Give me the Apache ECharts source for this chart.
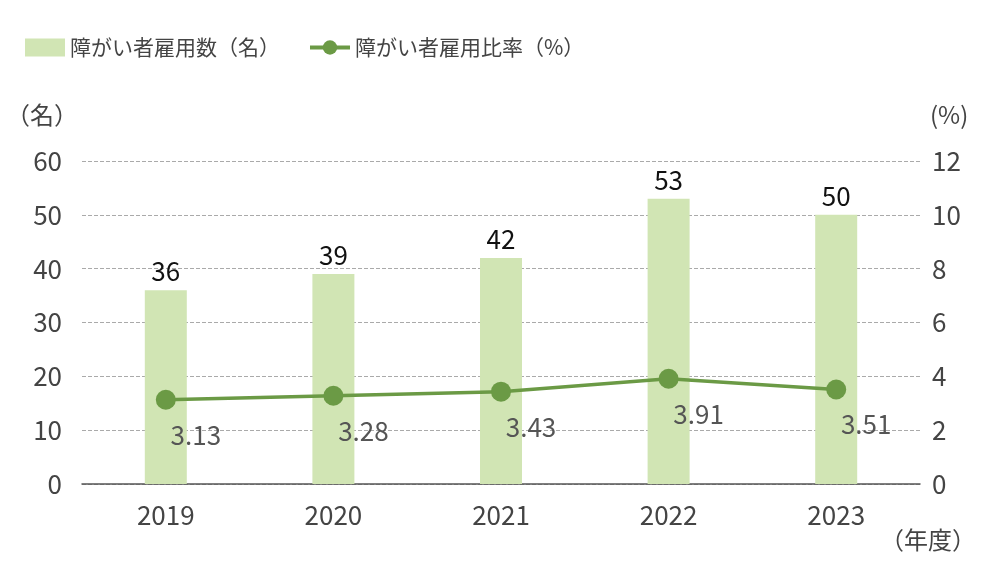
<!DOCTYPE html>
<html><head><meta charset="utf-8">
<script src="https://cdn.jsdelivr.net/npm/echarts@6/dist/echarts.min.js"></script>
<style>html,body{margin:0;background:#fff}#c{width:1000px;height:580px}</style>
</head><body><div id="c"></div>
<script>
const categories=['2019','2020','2021','2022','2023'];
const employees=[36,39,42,53,50];
const ratios=[3.13,3.28,3.43,3.91,3.51];
const ff='"Noto Sans CJK JP","Noto Sans",sans-serif';
const ch=echarts.init(document.getElementById('c'));
ch.setOption({
 textStyle:{fontFamily:ff},
 legend:{left:20,top:32,itemGap:28,itemWidth:40,itemHeight:18,textStyle:{fontSize:21,color:'#444',fontFamily:ff},
  data:[{name:'障がい者雇用数（名）',icon:'rect',itemStyle:{color:'#d1e5b4'}},{name:'障がい者雇用比率（%）',lineStyle:{width:4}}]},
 grid:{left:82,right:80,top:161,bottom:96},
 xAxis:{type:'category',data:categories,axisTick:{show:false},axisLine:{lineStyle:{color:'#555',width:1.5}},
  axisLabel:{fontSize:26,color:'#444',margin:18}},
 yAxis:[{type:'value',min:0,max:60,interval:10,name:'（名）',nameLocation:'end',nameGap:34,nameTextStyle:{fontSize:24,color:'#444',align:'right',padding:[0,4,0,0]},
   axisLabel:{fontSize:26,color:'#444',margin:20},splitLine:{lineStyle:{type:'dashed',color:'#aaa'}}},
  {type:'value',min:0,max:12,interval:2,name:'(%)',nameGap:34,nameTextStyle:{fontSize:24,color:'#444',align:'left',padding:[0,0,0,10]},
   axisLabel:{fontSize:26,color:'#444',margin:12},splitLine:{show:false}}],
 graphic:[{type:'text',right:24,top:528,style:{text:'（年度）',fontSize:24,fill:'#444',fontFamily:ff}}],
 series:[{name:'障がい者雇用数（名）',type:'bar',data:employees,barWidth:42,itemStyle:{color:'#d1e5b4'},
   label:{show:true,position:'top',fontSize:26,color:'#111',distance:6}},
  {name:'障がい者雇用比率（%）',type:'line',yAxisIndex:1,data:ratios,symbol:'circle',symbolSize:20,
   itemStyle:{color:'#6b9a45'},lineStyle:{color:'#6b9a45',width:3.5},
   label:{show:true,position:'bottom',distance:12,offset:[30,0],fontSize:26,color:'#555'}}]
});
</script></body></html>
